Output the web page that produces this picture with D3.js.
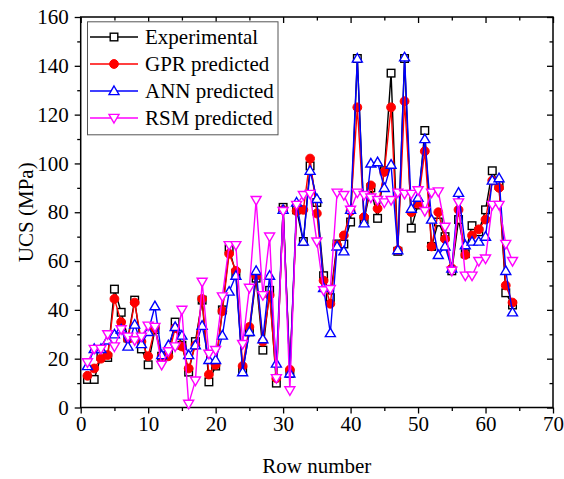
<!DOCTYPE html>
<html><head><meta charset="utf-8">
<script src="https://cdn.jsdelivr.net/npm/d3@7"></script>
<style>
body{margin:0;background:#fff}
svg{display:block}
text{font-family:"Liberation Serif","Times New Roman",serif;fill:#000}
</style>
</head><body>
<svg id="c" width="564" height="479"></svg>
<script>
const rowNumbers=[1,2,3,4,5,6,7,8,9,10,11,12,13,14,15,16,17,18,19,20,21,22,23,24,25,26,27,28,29,30,31,32,33,34,35,36,37,38,39,40,41,42,43,44,45,46,47,48,49,50,51,52,53,54,55,56,57,58,59,60,61,62,63,64];
const experimental=[11.5,11.5,21,20.5,48.5,39,28.5,44,24,17.5,32,21,23,35,25.5,14.5,27,44,10.5,17,40,65,55,15,31,53,23.5,48,10,82,14,81,68,99,84,54,45,67,67,76,143,77,90,77.5,97,137,64,143,73.5,83,113.5,66,76,70,56,77,63,74.5,72,81,97,91,47,42];
const gprPredicted=[13,16,20,21.5,44.5,35,28,43,27,21,32.5,21,21,32.5,25,16,25.5,44.5,13.5,17.5,39.5,63,56,17,33,54,27,46,12,81,15.5,80.5,81,102,79.5,52,42.5,66.5,70.5,80.5,123,78,91,81.5,96.5,123,64.5,125.5,80,83.5,105,66,80,69,57,81,62.5,70.5,73,77,93,90,50,43];
const annPredicted=[17,24,24,27.5,30,32,25,34,26,31,41.5,21.5,25.5,33,29.5,21.5,25.5,33.5,19.5,19.5,29.5,47.5,54,14.5,31,56,28,54,18,81,14,84,68,97,85.5,49,30.5,66,64,81,143,75.5,100,100.5,90,99.5,64.5,143.5,81.5,86,110,77,62.5,66,57,88,66.5,68,68,70,93,94,56,39];
const rsmPredicted=[18.5,24,24,30,25,32,29,27.5,29,33.5,33,17.5,23,25,40,1.5,11,51.5,22,23.5,45.5,66.5,66.5,26,49,85,46,70,12,80.5,7,83,87,87.5,68,48,48.5,88,87,81,88,87,86,85,84,85,88,87.5,87.5,89,80.5,88,88.5,74,56,84,54,54,60,61,83,83,67,60];
const seriesNames=["Experimental","GPR predicted","ANN predicted","RSM predicted"];
const xTicks=[0,10,20,30,40,50,60,70];
const xMinor=[5,15,25,35,45,55,65];
const yTicks=[0,20,40,60,80,100,120,140,160];
const yMinor=[10,30,50,70,90,110,130,150];

const colors=["#000000","#ff0000","#0000ff","#ff00ff"];
const symbols=["square","circle","triUp","triDown"];
const data=[experimental,gprPredicted,annPredicted,rsmPredicted];

const svg=d3.select("#c");
const L=80.7,R=553,T=17,B=407.5;
const x=d3.scaleLinear().domain([0,70]).range([L,R]);
const y=d3.scaleLinear().domain([0,160]).range([B,T]);

function styleAxis(g){
  g.select(".domain").remove();
  g.selectAll("line").attr("stroke","#000").attr("stroke-width",1.3);
  g.selectAll("text").attr("font-size",21).attr("font-family","Liberation Serif, Times New Roman, serif").attr("fill","#000");
}
// bottom
svg.append("g").attr("transform",`translate(0,${B})`)
  .call(d3.axisBottom(x).tickValues(xTicks).tickSize(6).tickPadding(3).tickFormat(d3.format("d"))).call(styleAxis);
svg.append("g").attr("transform",`translate(0,${B})`)
  .call(d3.axisBottom(x).tickValues(xMinor).tickSize(3.5).tickFormat("")).call(styleAxis);
// left
svg.append("g").attr("transform",`translate(${L},0)`)
  .call(d3.axisLeft(y).tickValues(yTicks).tickSize(6).tickPadding(6).tickFormat(d3.format("d"))).call(styleAxis);
svg.append("g").attr("transform",`translate(${L},0)`)
  .call(d3.axisLeft(y).tickValues(yMinor).tickSize(3.5).tickFormat("")).call(styleAxis);
// top (inward)
svg.append("g").attr("transform",`translate(0,${T})`)
  .call(d3.axisTop(x).tickValues(xTicks).tickSize(-6).tickFormat("")).call(styleAxis);
svg.append("g").attr("transform",`translate(0,${T})`)
  .call(d3.axisTop(x).tickValues(xMinor).tickSize(-3.5).tickFormat("")).call(styleAxis);
// right (inward)
svg.append("g").attr("transform",`translate(${R},0)`)
  .call(d3.axisRight(y).tickValues(yTicks).tickSize(-6).tickFormat("")).call(styleAxis);
svg.append("g").attr("transform",`translate(${R},0)`)
  .call(d3.axisRight(y).tickValues(yMinor).tickSize(-3.5).tickFormat("")).call(styleAxis);

// frame
svg.append("rect").attr("x",L).attr("y",T).attr("width",R-L).attr("height",B-T)
  .attr("fill","none").attr("stroke","#000").attr("stroke-width",1.5);

function drawSymbol(g,type,cx,cy,color){
  if(type==="square"){
    g.append("rect").attr("x",cx-3.8).attr("y",cy-3.8).attr("width",7.6).attr("height",7.6)
      .attr("fill","#fff").attr("stroke",color).attr("stroke-width",1.4);
  }else if(type==="circle"){
    g.append("circle").attr("cx",cx).attr("cy",cy).attr("r",4.4).attr("fill",color).attr("stroke",color).attr("stroke-width",1);
  }else if(type==="triUp"){
    g.append("path").attr("d",`M${cx},${cy-5}L${cx+5},${cy+3.6}L${cx-5},${cy+3.6}Z`)
      .attr("fill","#fff").attr("stroke",color).attr("stroke-width",1.4);
  }else{
    g.append("path").attr("d",`M${cx},${cy+5}L${cx+5},${cy-3.6}L${cx-5},${cy-3.6}Z`)
      .attr("fill","#fff").attr("stroke",color).attr("stroke-width",1.4);
  }
}

const line=d3.line().x((d,i)=>x(rowNumbers[i])).y(d=>y(d));
data.forEach((vals,si)=>{
  const g=svg.append("g");
  g.append("path").datum(vals).attr("d",line).attr("fill","none")
    .attr("stroke",colors[si]).attr("stroke-width",1.4).attr("stroke-linejoin","round");
  vals.forEach((v,i)=>drawSymbol(g,symbols[si],x(rowNumbers[i]),y(v),colors[si]));
});

// legend
const lg=svg.append("g");
lg.append("rect").attr("x",87.5).attr("y",21.8).attr("width",190.5).attr("height",113)
  .attr("fill","#fff").attr("stroke","#555").attr("stroke-width",1);
seriesNames.forEach((name,i)=>{
  const cy=37+i*27;
  lg.append("line").attr("x1",90).attr("x2",138).attr("y1",cy).attr("y2",cy)
    .attr("stroke",colors[i]).attr("stroke-width",1.4);
  drawSymbol(lg,symbols[i],114,cy,colors[i]);
  lg.append("text").attr("x",145).attr("y",cy+7).attr("font-size",21).text(name);
});

// axis titles
svg.append("text").attr("x",(L+R)/2).attr("y",473).attr("text-anchor","middle").attr("font-size",21).text("Row number");
svg.append("text").attr("transform",`translate(33,${(T+B)/2}) rotate(-90)`).attr("text-anchor","middle").attr("font-size",21).text("UCS (MPa)");
</script>
</body></html>
